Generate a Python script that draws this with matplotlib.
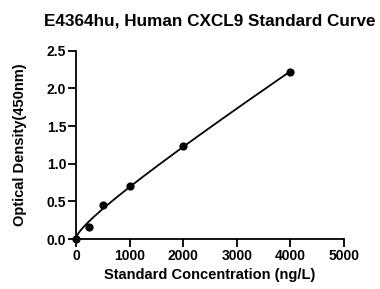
import numpy as np
import matplotlib
matplotlib.use("Agg")
from matplotlib import pyplot as plt

# standard curve points
conc = [0, 250, 500, 1000, 2000, 4000]
od = [0.0, 0.156, 0.45, 0.70, 1.233, 2.22]
xticks = [0, 1000, 2000, 3000, 4000, 5000]
yticks = [0.0, 0.5, 1.0, 1.5, 2.0, 2.5]

plt.rcParams['font.family'] = ['Liberation Sans', 'DejaVu Sans']
plt.rcParams['font.weight'] = 'bold'

fig = plt.figure(figsize=(3.8, 2.89), dpi=100)
ax = fig.add_axes([0.2, 0.173, 0.705, 0.651])

# least squares fit y = c1*sqrt(x) + c2*x through the standards
x = np.array(conc, dtype=float)
y = np.array(od, dtype=float)
A = np.column_stack([np.sqrt(x), x])
coef = np.linalg.lstsq(A, y, rcond=None)[0]
xs = np.linspace(0, max(conc), 300)
ax.plot(xs, coef[0] * np.sqrt(xs) + coef[1] * xs, color='black', lw=1.3, clip_on=False)

ax.scatter(conc, od, s=24, color='black', zorder=3, clip_on=False)

ax.set_xlim(0, 5000)
ax.set_ylim(0, 2.5)
ax.set_xticks(xticks)
ax.set_yticks(yticks)
ax.set_yticklabels(['%.1f' % v for v in yticks])
for s in ['top', 'right']:
    ax.spines[s].set_visible(False)
for s in ['left', 'bottom']:
    ax.spines[s].set_linewidth(1.3)
ax.tick_params(width=1.3, length=5.5, labelsize=10, pad=1.5)

ax.set_title('E4364hu, Human CXCL9 Standard Curve', fontsize=12.3, fontweight='bold', pad=18)
ax.set_xlabel('Standard Concentration (ng/L)', fontsize=10.5, fontweight='bold', labelpad=4)
ax.set_ylabel('Optical Density(450nm)', fontsize=10.5, fontweight='bold', labelpad=14)

fig.savefig('out.png', dpi=100)
